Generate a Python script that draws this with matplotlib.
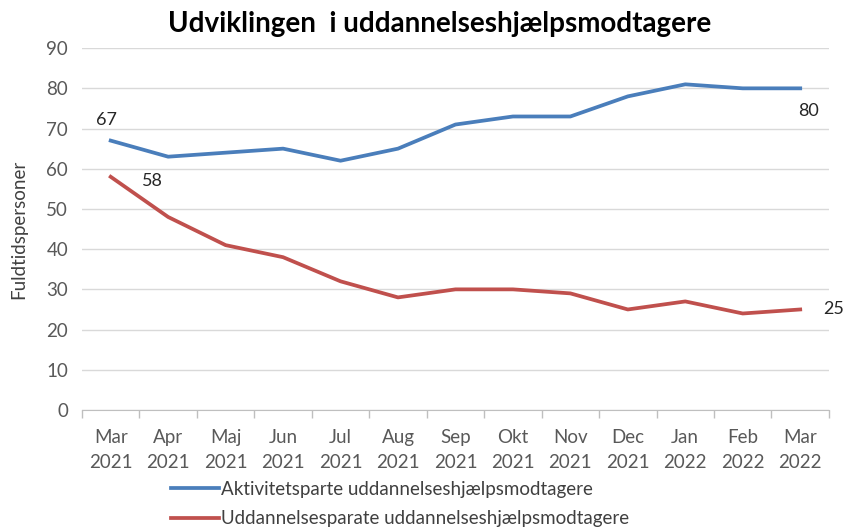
import matplotlib.pyplot as plt
import numpy as np

plt.rcParams['font.family'] = ['Lato', 'DejaVu Sans']

# data
maaneder = ['Mar\n2021', 'Apr\n2021', 'Maj\n2021', 'Jun\n2021', 'Jul\n2021', 'Aug\n2021',
            'Sep\n2021', 'Okt\n2021', 'Nov\n2021', 'Dec\n2021', 'Jan\n2022', 'Feb\n2022', 'Mar\n2022']
aktivitetsparate = [67, 63, 64, 65, 62, 65, 71, 73, 73, 78, 81, 80, 80]
uddannelsesparate = [58, 48, 41, 38, 32, 28, 30, 30, 29, 25, 27, 24, 25]
y_ticks = [0, 10, 20, 30, 40, 50, 60, 70, 80, 90]

blaa = '#4a7ebb'
roed = '#c0504d'
graa = '#595959'

fig = plt.figure(figsize=(8.45, 5.29), dpi=100)
ax = fig.add_axes([0.097, 0.225, 0.884, 0.684])

x = np.arange(len(maaneder))
ax.plot(x, aktivitetsparate, color=blaa, lw=2.7, solid_joinstyle='round',
        label='Aktivitetsparte uddannelseshjælpsmodtagere')
ax.plot(x, uddannelsesparate, color=roed, lw=2.7, solid_joinstyle='round',
        label='Uddannelsesparate uddannelseshjælpsmodtagere')

# etiketter ved start og slut
ax.annotate(str(aktivitetsparate[0]), (x[0], aktivitetsparate[0]), xytext=(-3, 9),
            textcoords='offset points', ha='center', va='bottom', fontsize=13, color='#262626')
ax.annotate(str(uddannelsesparate[0]), (x[0], uddannelsesparate[0]), xytext=(30, -3),
            textcoords='offset points', ha='center', va='center', fontsize=13, color='#262626')
ax.annotate(str(aktivitetsparate[-1]), (x[-1], aktivitetsparate[-1]), xytext=(6, -16),
            textcoords='offset points', ha='center', va='center', fontsize=13, color='#262626')
ax.annotate(str(uddannelsesparate[-1]), (x[-1], uddannelsesparate[-1]), xytext=(24, 0),
            textcoords='offset points', ha='center', va='center', fontsize=13, color='#262626')

ax.set_xlim(-0.5, len(maaneder) - 0.5)
ax.set_ylim(0, 90)
ax.set_yticks(y_ticks)
ax.set_xticks(x)
ax.set_xticklabels(maaneder, fontsize=13.5, color=graa, linespacing=1.55)
ax.set_xticks(np.arange(len(maaneder) + 1) - 0.5, minor=True)
ax.tick_params(axis='x', which='major', length=0, pad=14)
ax.tick_params(axis='x', which='minor', length=6, color='#bfbfbf', width=1)
ax.tick_params(axis='y', length=0, labelsize=13.5, labelcolor=graa, pad=10)

ax.grid(axis='y', color='#d9d9d9', lw=1)
ax.set_axisbelow(True)
for s in ['left', 'right', 'top']:
    ax.spines[s].set_visible(False)
ax.spines['bottom'].set_color('#bfbfbf')

ax.set_ylabel('Fuldtidspersoner', fontsize=13.5, color='#404040', labelpad=14)
fig.text(0.52, 0.955, 'Udviklingen  i uddannelseshjælpsmodtagere', ha='center', va='center',
         fontsize=20, fontweight='bold', color='black')

fig.legend(loc='upper left', bbox_to_anchor=(0.193, 0.105), frameon=False, fontsize=13.5,
           handlelength=2.6, handletextpad=0.1, labelspacing=0.65, borderaxespad=0,
           labelcolor='#404040')

fig.savefig('out.png', dpi=100)
